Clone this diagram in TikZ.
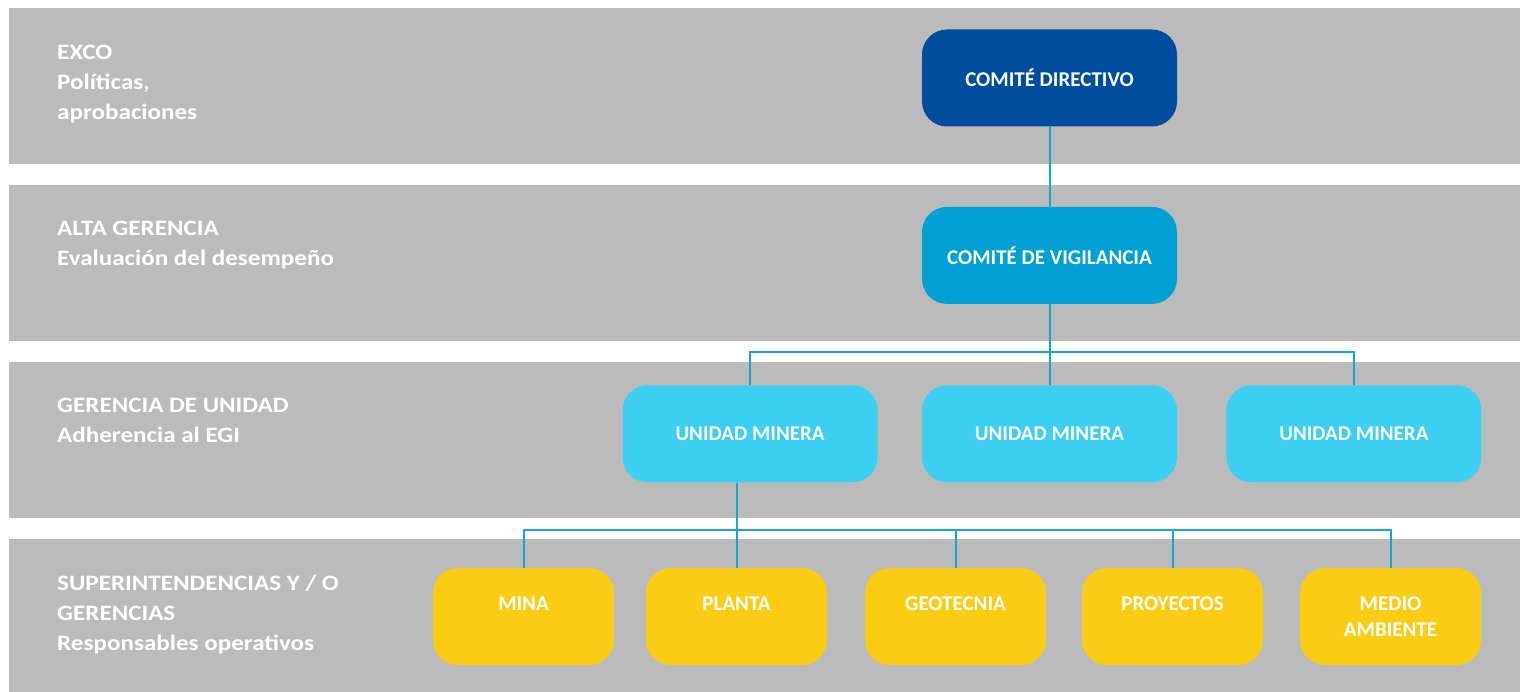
\documentclass[tikz,border=0pt]{standalone}
\usepackage{fontspec}
\setmainfont{Carlito}
\newfontfamily\bandfont{Carlito}[FakeStretch=1.14]
\usetikzlibrary{positioning}
\definecolor{bandgray}{HTML}{BBBBBB}
\definecolor{dirblue}{HTML}{004C9D}
\definecolor{vigblue}{HTML}{00A1D2}
\definecolor{unitblue}{HTML}{3DCFF2}
\definecolor{opyellow}{HTML}{FBCC14}
\definecolor{linkblue}{HTML}{1BA4D2}
\tikzstyle{band} = [fill=bandgray, draw=none]
\tikzstyle{bandtext} = [anchor=north west, align=left, text=white, inner sep=0pt, font=\bandfont\fontsize{22}{30}\selectfont\bfseries]
\tikzstyle{box} = [rounded corners=25pt, text=white, align=center, inner sep=0pt, minimum width=255pt, minimum height=97pt, font=\fontsize{21}{26}\selectfont\bfseries]
\tikzstyle{dirbox} = [box, fill=dirblue]
\tikzstyle{vigbox} = [box, fill=vigblue]
\tikzstyle{unitbox} = [box, fill=unitblue]
\tikzstyle{opbox} = [box, fill=opyellow, minimum width=181pt]
\tikzstyle{link} = [draw=linkblue, line width=2pt]

\begin{document}
\begin{tikzpicture}[x=1pt, y=-1pt]
\useasboundingbox (0,0) rectangle (1520,692);

% Bands
\fill[band] (9,8)   rectangle (1520,164);
\fill[band] (9,185) rectangle (1520,341);
\fill[band] (9,362) rectangle (1520,518);
\fill[band] (9,539) rectangle (1520,692);

\node[bandtext] (lexco)  at (57,45)  {EXCO\\Políticas,\\aprobaciones};
\node[bandtext] (lalta)  at (57,221) {ALTA GERENCIA\\Evaluación del desempeño};
\node[bandtext] (lunit)  at (57,398) {GERENCIA DE UNIDAD\\Adherencia al EGI};
\node[bandtext] (lsuper) at (57,575) {SUPERINTENDENCIAS Y / O\\GERENCIAS\\Responsables operativos};

% Define nodes
\node[dirbox]                        (dir) at (1049.5,78) {COMITÉ DIRECTIVO};
\node[vigbox,  below = 80pt of dir]  (vig) {COMITÉ DE VIGILANCIA};
\node[unitbox, below = 81pt of vig]  (um2) {UNIDAD MINERA};
\node[unitbox, left  = 44pt of um2]  (um1) {UNIDAD MINERA};
\node[unitbox, right = 49pt of um2]  (um3) {UNIDAD MINERA};

\node[opbox] (mina)   at (523.5,616.5)  {MINA\\\mbox{}};
\node[opbox] (planta) at (736.5,616.5)  {PLANTA\\\mbox{}};
\node[opbox] (geo)    at (955.5,616.5)  {GEOTECNIA\\\mbox{}};
\node[opbox] (proy)   at (1172.5,616.5) {PROYECTOS\\\mbox{}};
\node[opbox] (medio)  at (1390.5,616.5) {MEDIO\\AMBIENTE};

\coordinate (busA) at (vig.south |- 0,352);
\coordinate (busB) at (planta.north |- 0,530);

% Edges
\draw[link] (dir) -- (vig);
\draw[link] (vig) -- (busA);
\draw[link] (um1.north) |- (busA) -| (um3.north);
\draw[link] (busA) -- (um2);
\draw[link] (um1.south -| busB) -- (planta);
\draw[link] (mina.north) |- (busB) -| (medio.north);
\draw[link] (geo.north) -- (geo.north |- busB);
\draw[link] (proy.north) -- (proy.north |- busB);
\end{tikzpicture}
\end{document}
